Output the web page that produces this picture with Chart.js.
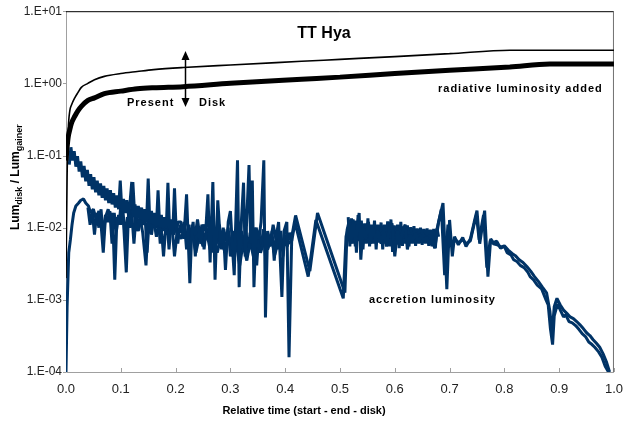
<!DOCTYPE html>
<html>
<head>
<meta charset="utf-8">
<script src="https://cdn.jsdelivr.net/npm/chart.js@4"></script>
<style>
  body { margin: 0; background: #fff; }
  #wrap { width: 633px; height: 427px; }
</style>
</head>
<body>
<div id="wrap"><canvas id="chart" width="633" height="427"></canvas></div>
<script>
// radiative luminosity curves (present = thin, disk = thick)
const radTime  = [0, 0.002, 0.004, 0.007, 0.01, 0.016, 0.022, 0.028, 0.04, 0.052, 0.07, 0.1, 0.13, 0.16, 0.214, 0.3, 0.43, 0.5, 0.6, 0.7, 0.81, 0.883, 0.95, 1.0];
const radThin  = [0.002, 0.05, 0.22, 0.42, 0.5, 0.63, 0.75, 0.88, 1.0, 1.12, 1.25, 1.37, 1.46, 1.55, 1.66, 1.8, 2.02, 2.15, 2.35, 2.58, 2.88, 2.88, 2.88, 2.88];
const radThick = [0.085, 0.13, 0.18, 0.23, 0.28, 0.35, 0.42, 0.48, 0.58, 0.63, 0.72, 0.78, 0.84, 0.87, 0.9, 1.0, 1.14, 1.22, 1.37, 1.52, 1.69, 1.85, 1.85, 1.85];

// accretion luminosity, run starting high
const accTimeA = [
  0.006, 0.009, 0.012, 0.015, 0.018, 0.021, 0.024, 0.027, 0.030, 0.033,
  0.036, 0.039, 0.042, 0.045, 0.048, 0.051, 0.054, 0.057, 0.060, 0.063,
  0.066, 0.069, 0.072, 0.075, 0.078, 0.081, 0.084, 0.087, 0.090, 0.093,
  0.096, 0.099, 0.102, 0.105, 0.108, 0.111, 0.114, 0.117, 0.120, 0.123,
  0.126, 0.129, 0.132, 0.135, 0.138, 0.141, 0.144, 0.147, 0.150, 0.153,
  0.156, 0.159, 0.162, 0.165, 0.168, 0.171, 0.174, 0.177, 0.180, 0.183,
  0.186, 0.189, 0.192, 0.195, 0.198, 0.201, 0.205,
  0.21, 0.215, 0.22, 0.226, 0.23, 0.236, 0.24, 0.246, 0.25, 0.255,
  0.259, 0.263, 0.268, 0.272, 0.277, 0.282, 0.287, 0.291, 0.296, 0.3,
  0.304, 0.307, 0.313, 0.316, 0.32, 0.324, 0.327, 0.334, 0.337, 0.34,
  0.343, 0.347, 0.352, 0.356, 0.361, 0.364, 0.368, 0.373, 0.378, 0.383,
  0.388, 0.394, 0.398, 0.403, 0.407, 0.412, 0.419, 0.445, 0.459, 0.509,
  0.513, 0.517, 0.52, 0.524, 0.528, 0.532, 0.535, 0.538, 0.542, 0.547,
  0.552, 0.556, 0.56, 0.565, 0.57, 0.575, 0.58, 0.585, 0.59, 0.595,
  0.6, 0.605, 0.61, 0.615, 0.619, 0.623, 0.628, 0.633, 0.638, 0.643,
  0.648, 0.653, 0.658, 0.663, 0.668, 0.673, 0.68, 0.688, 0.695, 0.7,
  0.705, 0.709, 0.716, 0.724, 0.73, 0.738, 0.745, 0.75, 0.755, 0.764,
  0.77, 0.775, 0.78, 0.786, 0.793, 0.8, 0.805, 0.812, 0.817, 0.823,
  0.829, 0.836, 0.843, 0.847, 0.853, 0.86, 0.868, 0.876, 0.88, 0.884,
  0.888, 0.891, 0.897, 0.903, 0.908, 0.912, 0.918, 0.924, 0.93, 0.936,
  0.942, 0.948, 0.954, 0.96, 0.965, 0.972, 0.978, 0.984, 0.99];
const accLumA = [
  0.075, 0.13, 0.085, 0.115, 0.07, 0.098, 0.06, 0.083, 0.05, 0.072,
  0.044, 0.063, 0.038, 0.055, 0.034, 0.05, 0.031, 0.045, 0.028, 0.041,
  0.026, 0.038, 0.024, 0.035, 0.022, 0.033, 0.021, 0.03, 0.019, 0.028,
  0.018, 0.045, 0.017, 0.025, 0.016, 0.024, 0.015, 0.023, 0.043, 0.014,
  0.021, 0.0135, 0.02, 0.013, 0.019, 0.0125, 0.018, 0.012, 0.048, 0.0115,
  0.017, 0.011, 0.016, 0.0105, 0.033, 0.0102, 0.015, 0.0099, 0.014, 0.0097,
  0.042, 0.0095, 0.013, 0.0093, 0.035, 0.0092, 0.012,
  0.012, 0.007, 0.029, 0.0017, 0.011, 0.008, 0.013, 0.006, 0.011, 0.009,
  0.029, 0.0033, 0.043, 0.0019, 0.024, 0.006, 0.01, 0.0026, 0.012, 0.017,
  0.005, 0.0022, 0.086, 0.0015, 0.012, 0.042, 0.004, 0.074, 0.006, 0.045,
  0.0015, 0.01, 0.007, 0.012, 0.086, 0.00057, 0.009, 0.006, 0.011, 0.007,
  0.012, 0.0011, 0.009, 0.012, 0.00016, 0.0075, 0.0148, 0.0025, 0.016, 0.00126,
  0.0093, 0.0125, 0.006, 0.013, 0.0055, 0.011, 0.016, 0.0036, 0.01, 0.007,
  0.012, 0.006, 0.0105, 0.0065, 0.009, 0.006, 0.0095, 0.0055, 0.01, 0.0115,
  0.004, 0.009, 0.006, 0.0095, 0.011, 0.005, 0.008, 0.0065, 0.0085, 0.0062,
  0.0078, 0.0065, 0.0075, 0.006, 0.0068, 0.0052, 0.012, 0.022, 0.0014, 0.0128,
  0.004, 0.0075, 0.0058, 0.0073, 0.0055, 0.007, 0.012, 0.0172, 0.006, 0.0172,
  0.0021, 0.007, 0.0062, 0.0065, 0.0052, 0.0055, 0.0045, 0.0042, 0.0036, 0.0034,
  0.003, 0.0028, 0.0024, 0.0021, 0.0019, 0.0016, 0.00142, 0.001, 0.00085, 0.0004,
  0.00024, 0.0006, 0.00088, 0.0007, 0.00058, 0.00062, 0.0005, 0.00048, 0.00044, 0.00039,
  0.00034, 0.00031, 0.00026, 0.00024, 0.00022, 0.00019, 0.00016, 0.00012, 0.0001];

// accretion luminosity, run starting low
const accTimeB = [
  0, 0.002, 0.005, 0.008, 0.011, 0.014, 0.018, 0.023, 0.027, 0.032,
  0.036, 0.041, 0.045, 0.05, 0.055, 0.06, 0.064, 0.068, 0.072, 0.077,
  0.081, 0.085, 0.089, 0.093, 0.097, 0.1, 0.105, 0.11, 0.114, 0.118,
  0.122, 0.126, 0.13, 0.135, 0.14, 0.146, 0.15, 0.155, 0.16, 0.165,
  0.17, 0.175, 0.178, 0.182, 0.188, 0.193, 0.198, 0.203, 0.21, 0.216,
  0.223, 0.23, 0.237, 0.244, 0.25, 0.257, 0.263, 0.27, 0.276, 0.283,
  0.29, 0.297, 0.303, 0.31, 0.317, 0.323, 0.33, 0.336, 0.342, 0.349,
  0.355, 0.362, 0.368, 0.375, 0.381, 0.388, 0.394, 0.4, 0.405, 0.412,
  0.418, 0.442, 0.456, 0.506, 0.511, 0.515, 0.52, 0.525, 0.53, 0.536,
  0.541, 0.547, 0.553, 0.559, 0.565, 0.571, 0.577, 0.583, 0.59, 0.597,
  0.603, 0.61, 0.617, 0.624, 0.63, 0.637, 0.644, 0.65, 0.657, 0.663,
  0.67, 0.677, 0.685, 0.691, 0.697, 0.703, 0.71, 0.717, 0.724, 0.731,
  0.738, 0.744, 0.749, 0.754, 0.762, 0.768, 0.774, 0.78, 0.787, 0.794,
  0.8, 0.807, 0.814, 0.82, 0.827, 0.834, 0.841, 0.848, 0.855, 0.862,
  0.87, 0.877, 0.883, 0.887, 0.891, 0.896, 0.902, 0.908, 0.914, 0.92,
  0.926, 0.932, 0.938, 0.944, 0.95, 0.956, 0.962, 0.968, 0.974, 0.98,
  0.986, 0.992];
const accLumB = [
  0.0001, 0.0008, 0.0045, 0.0068, 0.011, 0.016, 0.02, 0.022, 0.024, 0.025,
  0.022, 0.02, 0.016, 0.018, 0.013, 0.017, 0.011, 0.0045, 0.014, 0.018,
  0.012, 0.016, 0.0019, 0.014, 0.011, 0.02, 0.012, 0.0024, 0.015, 0.01,
  0.043, 0.012, 0.009, 0.014, 0.0085, 0.003, 0.012, 0.009, 0.013, 0.0075,
  0.011, 0.008, 0.004, 0.01, 0.0075, 0.012, 0.004, 0.009, 0.007, 0.01,
  0.006, 0.009, 0.0045, 0.008, 0.0055, 0.0085, 0.005, 0.007, 0.0045, 0.0075,
  0.0045, 0.008, 0.004, 0.0065, 0.003, 0.006, 0.0035, 0.0065, 0.004, 0.007,
  0.0045, 0.0068, 0.005, 0.0072, 0.0042, 0.0068, 0.005, 0.0075, 0.006, 0.0066,
  0.0118, 0.0021, 0.0128, 0.00105, 0.0075, 0.01, 0.0065, 0.011, 0.0068, 0.0115,
  0.0068, 0.0095, 0.0072, 0.009, 0.007, 0.0085, 0.0068, 0.0088, 0.0072, 0.0092,
  0.0066, 0.0085, 0.0072, 0.0088, 0.0078, 0.0092, 0.0072, 0.0085, 0.007, 0.0078,
  0.0068, 0.0095, 0.018, 0.0022, 0.011, 0.0055, 0.0068, 0.0062, 0.0068, 0.006,
  0.0066, 0.0105, 0.015, 0.0068, 0.015, 0.0028, 0.0066, 0.006, 0.0058, 0.0054,
  0.0056, 0.0049, 0.0044, 0.0041, 0.0036, 0.0033, 0.0029, 0.0025, 0.0021, 0.0018,
  0.00148, 0.00125, 0.0007, 0.00035, 0.0008, 0.00105, 0.00085, 0.00072, 0.00065, 0.00058,
  0.00055, 0.0005, 0.00045, 0.0004, 0.00035, 0.00032, 0.00028, 0.00025, 0.00022, 0.00018,
  0.00014, 0.0001];

// third run, noisy middle band
const accTimeC = [
  0.040, 0.044, 0.048, 0.052, 0.056, 0.060, 0.064, 0.068, 0.072, 0.076,
  0.080, 0.084, 0.088, 0.092, 0.096, 0.100, 0.104, 0.108, 0.112, 0.116,
  0.120, 0.124, 0.128, 0.132, 0.136, 0.140, 0.144, 0.148, 0.152, 0.156,
  0.160, 0.164, 0.168, 0.172, 0.176, 0.180, 0.184, 0.188, 0.192, 0.196,
  0.200, 0.204, 0.208, 0.212, 0.216, 0.220, 0.224, 0.228, 0.232, 0.236,
  0.240, 0.244, 0.248, 0.252, 0.256, 0.260, 0.264, 0.268, 0.272, 0.276,
  0.280, 0.284, 0.288, 0.292, 0.296, 0.300, 0.304, 0.308, 0.312, 0.316,
  0.320, 0.324, 0.328, 0.332, 0.336, 0.340, 0.344, 0.348, 0.352, 0.356,
  0.360, 0.364, 0.368, 0.372, 0.376, 0.380, 0.384, 0.388, 0.392, 0.396,
  0.400, 0.404, 0.408, 0.412];
const accLumC = [
  0.019, 0.011, 0.017, 0.008, 0.016, 0.010, 0.018, 0.007, 0.015, 0.012,
  0.017, 0.006, 0.016, 0.009, 0.015, 0.011, 0.017, 0.007, 0.014, 0.010,
  0.016, 0.006, 0.015, 0.009, 0.013, 0.011, 0.016, 0.0045, 0.014, 0.008,
  0.013, 0.010, 0.015, 0.006, 0.012, 0.009, 0.014, 0.005, 0.012, 0.008,
  0.013, 0.006, 0.011, 0.0085, 0.012, 0.005, 0.011, 0.007, 0.012, 0.004,
  0.010, 0.007, 0.011, 0.005, 0.010, 0.0065, 0.012, 0.0045, 0.010, 0.006,
  0.011, 0.005, 0.0095, 0.0065, 0.010, 0.004, 0.009, 0.006, 0.011, 0.0035,
  0.009, 0.005, 0.010, 0.0045, 0.0085, 0.0055, 0.010, 0.003, 0.0085, 0.005,
  0.0095, 0.004, 0.008, 0.0055, 0.009, 0.0035, 0.0085, 0.005, 0.009, 0.004,
  0.008, 0.0055, 0.0085, 0.0066];

// third run after the gap
const accTimeD = [
  0.515, 0.518, 0.521, 0.524, 0.527, 0.530, 0.533, 0.536, 0.539, 0.542,
  0.545, 0.548, 0.551, 0.554, 0.557, 0.560, 0.563, 0.566, 0.569, 0.572,
  0.575, 0.578, 0.581, 0.584, 0.587, 0.590, 0.593, 0.596, 0.599, 0.602,
  0.605, 0.608, 0.611, 0.614, 0.617, 0.620, 0.623, 0.626, 0.629, 0.632,
  0.635, 0.638, 0.641, 0.644, 0.647, 0.650, 0.653, 0.656, 0.659, 0.662,
  0.665, 0.668, 0.671, 0.674, 0.677, 0.680];
const accLumD = [
  0.014, 0.0055, 0.0135, 0.006, 0.0125, 0.0045, 0.015, 0.0065, 0.0125, 0.005,
  0.0115, 0.006, 0.0135, 0.0055, 0.011, 0.006, 0.0125, 0.005, 0.011, 0.0062,
  0.0118, 0.005, 0.011, 0.006, 0.0122, 0.0055, 0.013, 0.0046, 0.0108, 0.0058,
  0.011, 0.0052, 0.012, 0.0056, 0.0104, 0.006, 0.0108, 0.0055, 0.0102, 0.006,
  0.0105, 0.0056, 0.0098, 0.006, 0.01, 0.0058, 0.0096, 0.006, 0.0098, 0.0056,
  0.0094, 0.0055, 0.0096, 0.0052, 0.0098, 0.0075];

const yTickValues = [0.0001, 0.001, 0.01, 0.1, 1, 10];
const yTickLabels = ['1.E-04', '1.E-03', '1.E-02', '1.E-01', '1.E+00', '1.E+01'];
const xTickValues = [0, 0.1, 0.2, 0.3, 0.4, 0.5, 0.6, 0.7, 0.8, 0.9, 1.0];

const navy = '#003366';
const pts = (xs, ys) => xs.map((x, i) => ({ x: x, y: ys[i] }));

function lineSet(data, color, width, order, smooth) {
    return {
        data: data,
        borderColor: color,
        borderWidth: width,
        pointRadius: 0,
        tension: smooth ? 0.4 : 0,
        cubicInterpolationMode: smooth ? 'monotone' : 'default',
        fill: false,
        borderJoinStyle: 'bevel',
        order: order
    };
}

// frame, small ticks and all free text
const decorations = {
    id: 'decorations',
    beforeDatasetsDraw(chart) {
        const { ctx, chartArea: a, scales } = chart;
        ctx.save();
        ctx.lineWidth = 1;
        ctx.strokeStyle = '#a0a0a0';
        ctx.beginPath();
        ctx.moveTo(a.left + 0.5, a.top);
        ctx.lineTo(a.left + 0.5, a.bottom + 0.5);
        ctx.lineTo(a.right, a.bottom + 0.5);
        ctx.stroke();
        ctx.strokeStyle = '#000';
        ctx.beginPath();
        ctx.moveTo(a.left, a.top + 0.5);
        ctx.lineTo(a.right, a.top + 0.5);
        ctx.stroke();
        ctx.strokeStyle = '#707070';
        ctx.beginPath();
        ctx.moveTo(a.right - 0.5, a.top);
        ctx.lineTo(a.right - 0.5, a.bottom);
        ctx.stroke();
        ctx.strokeStyle = '#a0a0a0';
        xTickValues.forEach(v => {
            const px = Math.round(scales.x.getPixelForValue(v)) + 0.5;
            ctx.beginPath();
            ctx.moveTo(px, a.bottom);
            ctx.lineTo(px, a.bottom - 4);
            ctx.stroke();
        });
        yTickValues.forEach(v => {
            const py = Math.round(scales.y.getPixelForValue(v)) + 0.5;
            ctx.beginPath();
            ctx.moveTo(a.left - 3, py);
            ctx.lineTo(a.left, py);
            ctx.stroke();
        });
        ctx.restore();
    },
    afterDraw(chart) {
        const { ctx } = chart;
        ctx.save();
        ctx.fillStyle = '#000';
        ctx.textBaseline = 'middle';

        ctx.textAlign = 'center';
        ctx.font = 'bold 16px "Liberation Sans", Arial, sans-serif';
        ctx.fillText('TT Hya', 324, 34);

        ctx.font = 'bold 11px "Liberation Sans", Arial, sans-serif';
        ctx.letterSpacing = '1px';
        ctx.textAlign = 'left';
        ctx.fillText('Present', 127, 103);
        ctx.fillText('Disk', 199, 103);
        ctx.fillText('radiative luminosity added', 438, 89);
        ctx.fillText('accretion luminosity', 369, 300);
        ctx.letterSpacing = '0px';

        ctx.textAlign = 'center';
        ctx.fillText('Relative time (start - end - disk)', 304, 411);

        // double arrow between the present and disk curves
        ctx.strokeStyle = '#000';
        ctx.lineWidth = 1.5;
        ctx.beginPath();
        ctx.moveTo(185.5, 58);
        ctx.lineTo(185.5, 100);
        ctx.stroke();
        ctx.beginPath();
        ctx.moveTo(185.5, 51);
        ctx.lineTo(181.5, 60);
        ctx.lineTo(189.5, 60);
        ctx.closePath();
        ctx.fill();
        ctx.beginPath();
        ctx.moveTo(185.5, 107);
        ctx.lineTo(181.5, 98);
        ctx.lineTo(189.5, 98);
        ctx.closePath();
        ctx.fill();

        // rotated y title with subscripts
        ctx.translate(19, 230);
        ctx.rotate(-Math.PI / 2);
        ctx.textAlign = 'left';
        ctx.textBaseline = 'alphabetic';
        const parts = [['Lum', 12, 0], ['disk', 9, 3], [' / Lum', 12, 0], ['gainer', 9, 3]];
        let x = 0;
        parts.forEach(([t, size, drop]) => {
            ctx.font = 'bold ' + size + 'px "Liberation Sans", Arial, sans-serif';
            ctx.fillText(t, x, drop);
            x += ctx.measureText(t).width;
        });
        ctx.restore();
    }
};

new Chart(document.getElementById('chart'), {
    type: 'line',
    data: {
        datasets: [
            lineSet(pts(radTime, radThin), '#000', 1.6, 0, true),
            lineSet(pts(radTime, radThick), '#000', 5, 0, true),
            lineSet(pts(accTimeA, accLumA), navy, 3, 1, false),
            lineSet(pts(accTimeB, accLumB), navy, 3, 1, false),
            lineSet(pts(accTimeC, accLumC), navy, 3, 1, false),
            lineSet(pts(accTimeD, accLumD), navy, 3, 1, false)
        ]
    },
    options: {
        responsive: false,
        animation: false,
        events: [],
        layout: { padding: { top: 10, right: 11, left: 0, bottom: 0 } },
        plugins: { legend: { display: false }, tooltip: { enabled: false } },
        scales: {
            x: {
                type: 'linear',
                min: 0,
                max: 1,
                afterFit: s => { s.height = 55; },
                afterBuildTicks: s => { s.ticks = xTickValues.map(v => ({ value: v })); },
                grid: { display: false, drawTicks: false },
                border: { display: false },
                ticks: {
                    padding: 10,
                    maxRotation: 0,
                    autoSkip: false,
                    color: '#222',
                    font: { family: '"Liberation Sans", Arial, sans-serif', size: 13 },
                    callback: v => Number(v).toFixed(1)
                }
            },
            y: {
                type: 'logarithmic',
                min: 0.0001,
                max: 10,
                afterFit: s => { s.width = 66; },
                afterBuildTicks: s => { s.ticks = yTickValues.map(v => ({ value: v, major: true })); },
                grid: { display: false, drawTicks: false },
                border: { display: false },
                ticks: {
                    padding: 4,
                    autoSkip: false,
                    color: '#222',
                    font: { family: '"Liberation Sans", Arial, sans-serif', size: 12 },
                    callback: v => yTickLabels[yTickValues.indexOf(v)]
                }
            }
        }
    },
    plugins: [decorations]
});
</script>
</body>
</html>
